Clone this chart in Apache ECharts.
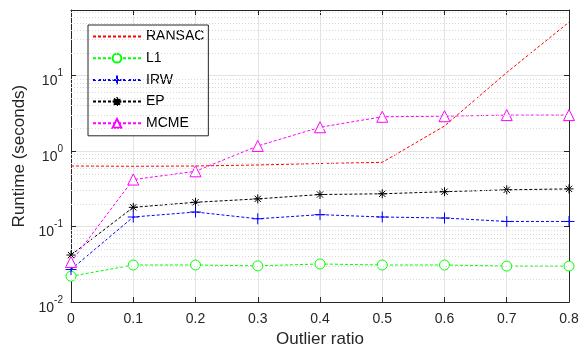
<!DOCTYPE html>
<html><head><meta charset="utf-8">
<script src="https://cdn.jsdelivr.net/npm/echarts@6/dist/echarts.min.js"></script>
<style>html,body{margin:0;padding:0;background:#fff}#c{width:587px;height:353px}</style>
</head><body><div id="c"></div>
<script>
// ---- data ----
const outlierRatio = [0, 0.1, 0.2, 0.3, 0.4, 0.5, 0.6, 0.7, 0.8];
const ransac = [0.635, 0.63, 0.635, 0.655, 0.685, 0.71, 2.15, 11, 51];
const l1     = [0.022, 0.031, 0.031, 0.0302, 0.032, 0.031, 0.031, 0.030, 0.030];
const irw    = [0.027, 0.134, 0.156, 0.127, 0.144, 0.134, 0.130, 0.117, 0.117];
const ep     = [0.042, 0.18, 0.21, 0.233, 0.266, 0.272, 0.29, 0.307, 0.316];
const mcme   = [0.034, 0.42, 0.54, 1.17, 2.07, 2.85, 2.9, 3.0, 3.0];
const seriesNames = ['RANSAC', 'L1', 'IRW', 'EP', 'MCME'];
const yMin = 0.01, yMax = 74;
const yDecadeExponents = [-2, -1, 0, 1];
const minorMultipliers = [2, 3, 4, 5, 6, 7, 8, 9];

// ---- build ----
const FONT = 'Liberation Sans, Arial, Helvetica, sans-serif';
const AX = '#262626';
const pairs = arr => outlierRatio.map((x, i) => [x, arr[i]]);
const minorVals = [];
yDecadeExponents.forEach(e => minorMultipliers.forEach(m => {
  const v = m * Math.pow(10, e);
  if (v < yMax) minorVals.push(v);
}));

const plusPath = 'path://M0,-10L0,10M-10,0L10,0';
const starPath = 'path://M0,-10L0,10M-10,0L10,0M-7,-7L7,7M-7,7L7,-7';

function mk(name, data, color, symbol, size, fill) {
  return {
    name, type: 'line', data: pairs(data),
    symbol, symbolSize: size,
    showSymbol: symbol !== 'none',
    lineStyle: { color, width: 1, type: [3, 2] },
    itemStyle: { color: fill, borderColor: color, borderWidth: 1 },
    emphasis: { disabled: true },
    animation: false, z: 3
  };
}

const axisLineStyle = { show: true, onZero: false, lineStyle: { color: AX, width: 1, type: 'solid' } };
const tickStyle = { show: true, inside: true, length: 5, lineStyle: { color: AX, type: 'solid' } };

const chart = echarts.init(document.getElementById('c'), null, { renderer: 'canvas' });
chart.setOption({
  animation: false,
  backgroundColor: '#fff',
  grid: { left: 71, right: 18, top: 10, bottom: 49 },
  legend: {
    orient: 'vertical', left: 88, top: 25,
    padding: [4.5, 4, 5.5, 4], itemGap: 7.7, itemWidth: 48, itemHeight: 11,
    backgroundColor: '#fff', borderColor: AX, borderWidth: 1, borderRadius: 0,
    textStyle: { fontFamily: FONT, fontSize: 14, color: '#000' },
    data: seriesNames.map(n => n === 'RANSAC'
      ? { name: n, itemStyle: { opacity: 0, borderWidth: 0 } }
      : { name: n })
  },
  xAxis: [{
    type: 'value', min: 0, max: 0.8, interval: 0.1,
    name: 'Outlier ratio', nameLocation: 'middle', nameGap: 28,
    nameTextStyle: { fontFamily: FONT, fontSize: 17, color: '#262626' },
    axisLine: axisLineStyle,
    axisTick: tickStyle,
    axisLabel: { fontFamily: FONT, fontSize: 14, color: '#262626', margin: 10,
      formatter: v => v === 0 ? '0' : v.toFixed(1) },
    splitLine: { show: true, showMinLine: false, showMaxLine: false, lineStyle: { color: '#e3e3e3', width: 1, type: 'solid' } }
  }, {
    type: 'value', min: 0, max: 0.8, interval: 0.1, position: 'top',
    axisLine: axisLineStyle,
    axisTick: tickStyle,
    axisLabel: { show: false }, splitLine: { show: false }
  }],
  yAxis: [{
    type: 'log', logBase: 10, min: yMin, max: yMax,
    name: 'Runtime (seconds)', nameLocation: 'middle', nameGap: 34,
    nameTextStyle: { fontFamily: FONT, fontSize: 17, color: '#262626' },
    axisLine: axisLineStyle,
    axisTick: tickStyle,
    axisLabel: {
      margin: 8, color: '#262626', padding: [6, 0, 0, 0],
      formatter: v => {
        const l = Math.log10(v), e = Math.round(l);
        if (Math.abs(l - e) > 1e-6) return '';
        return '{b|10}{s|' + e + '}';
      },
      rich: {
        b: { fontFamily: FONT, fontSize: 14, color: '#262626', verticalAlign: 'bottom', lineHeight: 20 },
        s: { fontFamily: FONT, fontSize: 10, color: '#262626', verticalAlign: 'top', lineHeight: 20 }
      }
    },
    splitLine: { show: true, showMinLine: false, showMaxLine: false, lineStyle: { color: '#e3e3e3', width: 1, type: 'solid' } }
  }, {
    type: 'log', logBase: 10, min: yMin, max: yMax, position: 'right',
    axisLine: axisLineStyle,
    axisTick: tickStyle,
    axisLabel: { show: false }, splitLine: { show: false }
  }],
  series: [
    {
      name: 'minorGrid', type: 'line', data: [], silent: true, z: 1,
      markLine: {
        silent: true, symbol: 'none', animation: false,
        label: { show: false },
        lineStyle: { color: '#d9d9d9', width: 1, type: [1, 2] },
        data: minorVals.map(v => ({ yAxis: v }))
      }
    },
    mk('RANSAC', ransac, '#ff0000', 'none', 0, '#ff0000'),
    mk('L1', l1, '#00ff00', 'circle', 10, '#ffffff'),
    mk('IRW', irw, '#0000ff', plusPath, 11, '#0000ff'),
    mk('EP', ep, '#000000', starPath, 9, '#000000'),
    mk('MCME', mcme, '#ff00ff', 'triangle', 11, '#ffffff')
  ]
});
</script></body></html>
